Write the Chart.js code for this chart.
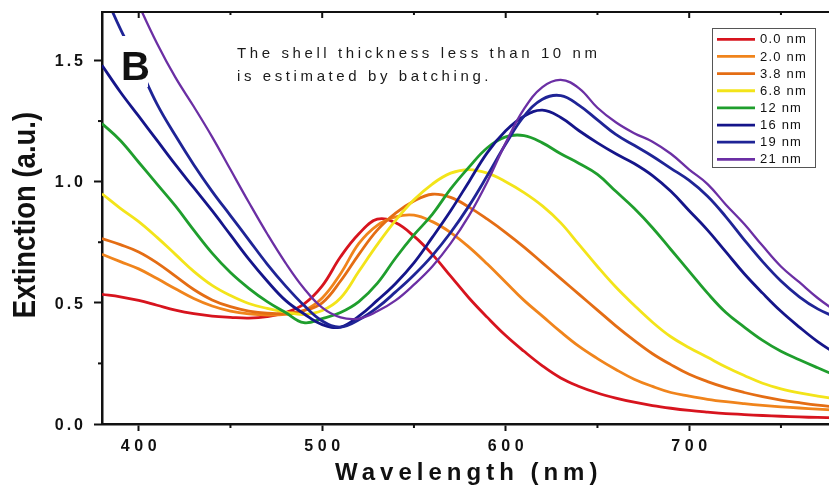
<!DOCTYPE html>
<html lang="en">
<head>
  <meta charset="UTF-8" />
  <title>Extinction spectra</title>
  <script src="https://cdn.jsdelivr.net/npm/chart.js"></script>
  <style>
    html, body {
      margin: 0;
      padding: 0;
      background: #fff;
      overflow: hidden;
    }
    #wrap {
      width: 840px;
      height: 486px;
    }
  </style>
</head>
<body>

  <div id="wrap"><canvas id="spectra" width="840" height="486"></canvas></div>

  <script>
  // wavelength grid (nm)
  const wavelength = [
    380, 390, 400, 410, 420, 430, 440, 450, 460, 470, 480, 490,
    500, 510, 520, 530, 540, 550, 560, 570, 580, 590, 600,
    610, 620, 630, 640, 650, 660, 670, 680, 690, 700,
    710, 720, 730, 740, 750, 760, 770, 780
  ];

  // extinction for each shell thickness
  const ext00 = [
    0.535, 0.525, 0.51, 0.49, 0.47, 0.455, 0.445, 0.44, 0.437, 0.443, 0.46, 0.495,
    0.57, 0.69, 0.785, 0.845, 0.83, 0.775, 0.70, 0.61, 0.52, 0.44, 0.365,
    0.30, 0.24, 0.19, 0.155, 0.128, 0.107, 0.09, 0.076, 0.065, 0.056,
    0.049, 0.043, 0.039, 0.035, 0.032, 0.029, 0.027, 0.025
  ];
  const ext20 = [
    0.70, 0.67, 0.64, 0.60, 0.558, 0.518, 0.487, 0.466, 0.454, 0.449, 0.452, 0.468,
    0.52, 0.62, 0.745, 0.82, 0.855, 0.862, 0.835, 0.79, 0.73, 0.66, 0.585,
    0.51, 0.445, 0.38, 0.32, 0.27, 0.225, 0.185, 0.155, 0.13, 0.115,
    0.102, 0.092, 0.084, 0.077, 0.071, 0.066, 0.061, 0.057
  ];
  const ext38 = [
    0.765, 0.74, 0.71, 0.665, 0.61, 0.555, 0.512, 0.484, 0.466, 0.457, 0.457, 0.468,
    0.50, 0.59, 0.70, 0.80, 0.87, 0.92, 0.948, 0.935, 0.895, 0.845, 0.79,
    0.73, 0.665, 0.60, 0.535, 0.47, 0.405, 0.345, 0.29, 0.245, 0.205,
    0.175, 0.15, 0.13, 0.113, 0.099, 0.088, 0.078, 0.07
  ];
  const ext68 = [
    0.95, 0.89, 0.835, 0.77, 0.70, 0.63, 0.572, 0.53, 0.497, 0.477, 0.462, 0.452,
    0.468, 0.52, 0.63, 0.74, 0.84, 0.925, 0.99, 1.035, 1.05, 1.035, 1.0,
    0.955, 0.9, 0.83, 0.74, 0.65, 0.565, 0.49, 0.42, 0.36, 0.315,
    0.275, 0.235, 0.2, 0.168, 0.145, 0.128, 0.115, 0.104
  ];
  const ext12 = [
    1.24, 1.17, 1.08, 0.99, 0.9, 0.8, 0.705, 0.625, 0.56, 0.505, 0.46, 0.418,
    0.435, 0.46, 0.505, 0.58, 0.685, 0.78, 0.865, 0.97, 1.06, 1.14, 1.185,
    1.19, 1.16, 1.115, 1.075, 1.03, 0.96, 0.89, 0.81, 0.72, 0.63,
    0.54, 0.46, 0.40, 0.345, 0.30, 0.265, 0.232, 0.2
  ];
  const ext16 = [
    1.48, 1.37, 1.27, 1.17, 1.07, 0.975, 0.88, 0.78, 0.68, 0.59, 0.51, 0.455,
    0.41, 0.40, 0.445, 0.51, 0.58, 0.665, 0.77, 0.88, 1.0, 1.12, 1.21,
    1.27, 1.295, 1.265, 1.21, 1.16, 1.115, 1.075, 1.025, 0.96, 0.88,
    0.80, 0.71, 0.62, 0.54, 0.465, 0.40, 0.34, 0.29
  ];
  const ext19 = [
    1.80, 1.63, 1.48, 1.32, 1.19, 1.07, 0.96, 0.86, 0.76, 0.66, 0.57, 0.49,
    0.425, 0.40, 0.43, 0.48, 0.545, 0.615, 0.695, 0.79, 0.90, 1.025, 1.155,
    1.27, 1.34, 1.355, 1.315, 1.255, 1.195, 1.15, 1.105, 1.055, 1.005,
    0.94, 0.855, 0.76, 0.67, 0.59, 0.525, 0.475, 0.44
  ];
  const ext21 = [
    2.08, 1.9, 1.73, 1.57, 1.43, 1.31, 1.185, 1.05, 0.915, 0.785, 0.665, 0.56,
    0.48, 0.44, 0.435, 0.465, 0.51, 0.575, 0.65, 0.745, 0.86, 1.0, 1.16,
    1.30, 1.39, 1.42, 1.385, 1.305, 1.245, 1.20, 1.165, 1.115, 1.05,
    0.99, 0.905, 0.825, 0.735, 0.65, 0.585, 0.52, 0.465
  ];

  const shellLabels = ['0.0 nm', '2.0 nm', '3.8 nm', '6.8 nm', '12 nm', '16 nm', '19 nm', '21 nm'];
  const shellSeries = [ext00, ext20, ext38, ext68, ext12, ext16, ext19, ext21];
  const shellColors = ['#d7141e', '#f0841c', '#e46d14', '#f3e41a', '#1f9e2d', '#15158a', '#1f2496', '#6b2fa4'];

  // axis ticks
  const xTicks = [400, 500, 600, 700];
  const xMinor = [450, 550, 650, 750];
  const yTicks = [0, 0.5, 1.0, 1.5];
  const yTickLabels = ['0.0', '0.5', '1.0', '1.5'];
  const yMinor = [0.25, 0.75, 1.25];

  const FONT = '"Liberation Sans", Arial, sans-serif';
  const INK = '#111';

  // text with tracking, aligned on its visible width
  function spacedText(ctx, text, x, y, spacing, align) {
    ctx.letterSpacing = spacing + 'px';
    const w = ctx.measureText(text).width - spacing;
    let sx = x;
    if (align === 'center') sx = x - w / 2;
    if (align === 'right') sx = x - w;
    ctx.textAlign = 'left';
    ctx.fillText(text, sx, y);
    ctx.letterSpacing = '0px';
  }

  function seg(ctx, x1, y1, x2, y2) {
    ctx.beginPath();
    ctx.moveTo(x1, y1);
    ctx.lineTo(x2, y2);
    ctx.stroke();
  }

  const decor = {
    id: 'decor',
    afterDraw(chart) {
      const ctx = chart.ctx;
      const a = chart.chartArea;
      const xs = chart.scales.x;
      const ys = chart.scales.y;
      ctx.save();

      // frame on top / right with inward ticks
      ctx.strokeStyle = INK;
      ctx.lineWidth = 2;
      ctx.beginPath();
      ctx.moveTo(a.left, a.top);
      ctx.lineTo(a.right, a.top);
      ctx.lineTo(a.right, a.bottom);
      ctx.stroke();
      xTicks.forEach(v => { const p = xs.getPixelForValue(v); seg(ctx, p, a.top, p, a.top + 6); });
      xMinor.forEach(v => { const p = xs.getPixelForValue(v); seg(ctx, p, a.top, p, a.top + 3); });
      yTicks.forEach(v => { const p = ys.getPixelForValue(v); seg(ctx, a.right, p, a.right - 7, p); });

      // minor ticks on bottom / left
      xMinor.forEach(v => { const p = xs.getPixelForValue(v); seg(ctx, p, a.bottom, p, a.bottom + 4); });
      yMinor.forEach(v => { const p = ys.getPixelForValue(v); seg(ctx, a.left, p, a.left - 4, p); });

      // tick labels
      ctx.fillStyle = INK;
      ctx.font = 'bold 16px ' + FONT;
      ctx.textBaseline = 'alphabetic';
      xTicks.forEach(v => {
        spacedText(ctx, String(v), xs.getPixelForValue(v), a.bottom + 27, 4.7, 'center');
      });
      yTicks.forEach((v, i) => {
        spacedText(ctx, yTickLabels[i], 83, ys.getPixelForValue(v) + 5.8, 3, 'right');
      });

      // axis titles
      ctx.font = 'bold 24px ' + FONT;
      spacedText(ctx, 'Wavelength (nm)', 335, 480, 5, 'left');

      ctx.save();
      ctx.translate(35, 215);
      ctx.rotate(-Math.PI / 2);
      ctx.scale(1, 1.15);
      ctx.font = 'bold 27.5px ' + FONT;
      ctx.textAlign = 'center';
      ctx.fillText('Extinction (a.u.)', 0, 0);
      ctx.restore();

      // panel letter on a white patch
      ctx.fillStyle = '#fff';
      ctx.fillRect(119, 36, 29, 51);
      ctx.fillStyle = INK;
      ctx.font = 'bold 40px ' + FONT;
      ctx.textAlign = 'left';
      ctx.fillText('B', 121, 80);

      // note
      ctx.fillStyle = '#1a1a1a';
      ctx.font = '15px ' + FONT;
      spacedText(ctx, 'The shell thickness less than 10 nm', 237, 57.5, 3.6, 'left');
      spacedText(ctx, 'is estimated by batching.', 237, 80.5, 3.6, 'left');

      // legend box
      ctx.fillStyle = '#fff';
      ctx.fillRect(712.5, 28.5, 103, 139);
      ctx.strokeStyle = '#555';
      ctx.lineWidth = 1;
      ctx.strokeRect(712.5, 28.5, 103, 139);
      ctx.font = '13px ' + FONT;
      ctx.textBaseline = 'middle';
      chart.data.datasets.forEach((ds, i) => {
        const ry = 39.3 + i * 17.15;
        ctx.strokeStyle = ds.borderColor;
        ctx.lineWidth = 2.8;
        seg(ctx, 717, ry, 755, ry);
        ctx.fillStyle = INK;
        spacedText(ctx, ds.label, 760, ry + 0.5, 1.2, 'left');
      });

      ctx.restore();
    }
  };

  const axisGrid = {
    drawOnChartArea: false,
    drawTicks: true,
    tickWidth: 2,
    color: INK
  };

  new Chart(document.getElementById('spectra'), {
    type: 'line',
    data: {
      datasets: shellLabels.map((label, i) => ({
        label: label,
        data: wavelength.map((w, k) => ({ x: w, y: shellSeries[i][k] })),
        borderColor: shellColors[i],
        borderWidth: i === 7 ? 2.3 : 2.8,
        pointRadius: 0,
        fill: false,
        tension: 0.4,
        order: shellLabels.length - i
      }))
    },
    options: {
      responsive: false,
      animation: false,
      devicePixelRatio: 1,
      layout: { padding: { top: 12, right: 4, left: 0, bottom: 0 } },
      plugins: {
        legend: { display: false },
        tooltip: { enabled: false }
      },
      scales: {
        x: {
          type: 'linear',
          min: 380,
          max: 780,
          afterBuildTicks: s => { s.ticks = xTicks.map(v => ({ value: v })); },
          afterFit: s => { s.height = 62; },
          ticks: { display: false },
          grid: Object.assign({ tickLength: 7 }, axisGrid),
          border: { display: true, color: INK, width: 2.5 }
        },
        y: {
          min: 0,
          max: 1.7,
          afterBuildTicks: s => { s.ticks = yTicks.map(v => ({ value: v })); },
          afterFit: s => { s.width = 102; },
          ticks: { display: false },
          grid: Object.assign({ tickLength: 8 }, axisGrid),
          border: { display: true, color: INK, width: 2.5 }
        }
      }
    },
    plugins: [decor]
  });
  </script>

</body>
</html>
